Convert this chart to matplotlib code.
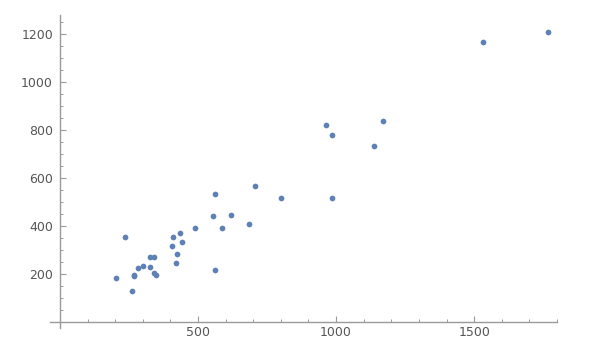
import matplotlib
matplotlib.use("Agg")
import matplotlib.pyplot as plt
from matplotlib.ticker import MultipleLocator

x_vals = [202, 234, 262, 267, 268, 284, 300, 326, 327, 339, 342, 348,
          408, 407, 419, 424, 436, 441, 490, 554, 562, 562, 587, 620,
          685, 708, 800, 962, 984, 984, 1138, 1169, 1533, 1766]
y_vals = [185, 353, 128, 197, 190, 224, 235, 229, 271, 271, 203, 196,
          353, 315, 246, 285, 372, 335, 390, 440, 535, 215, 390, 447,
          410, 567, 515, 822, 779, 515, 735, 840, 1167, 1210]
x_ticks = [500, 1000, 1500]
y_ticks = [200, 400, 600, 800, 1000, 1200]

fig = plt.figure(figsize=(6.12, 3.52), dpi=100)
ax = fig.add_axes([50/612, 24/352, 507/612, 313/352])
ax.scatter(x_vals, y_vals, s=17, color="#5E81B5", linewidths=0, zorder=3)
ax.set_xlim(-36, 1800)
ax.set_ylim(-25, 1280)

axis_col = "#9a9a9a"
ax.spines["left"].set_position(("data", 0))
ax.spines["bottom"].set_position(("data", 0))
ax.spines["right"].set_visible(False)
ax.spines["top"].set_visible(False)
for s in ("left", "bottom"):
    ax.spines[s].set_color(axis_col)
    ax.spines[s].set_linewidth(1.0)

ax.set_xticks(x_ticks)
ax.set_yticks(y_ticks)
ax.xaxis.set_minor_locator(MultipleLocator(100))
ax.yaxis.set_minor_locator(MultipleLocator(50))
ax.tick_params(which="major", direction="in", length=4, width=0.8, color=axis_col,
               labelcolor="#555555", labelsize=9)
ax.tick_params(which="minor", direction="in", length=2.2, width=0.7, color=axis_col)
ax.tick_params(axis="x", which="major", pad=3)
ax.tick_params(axis="y", which="major", pad=5)

fig.savefig("out.png", dpi=100)
